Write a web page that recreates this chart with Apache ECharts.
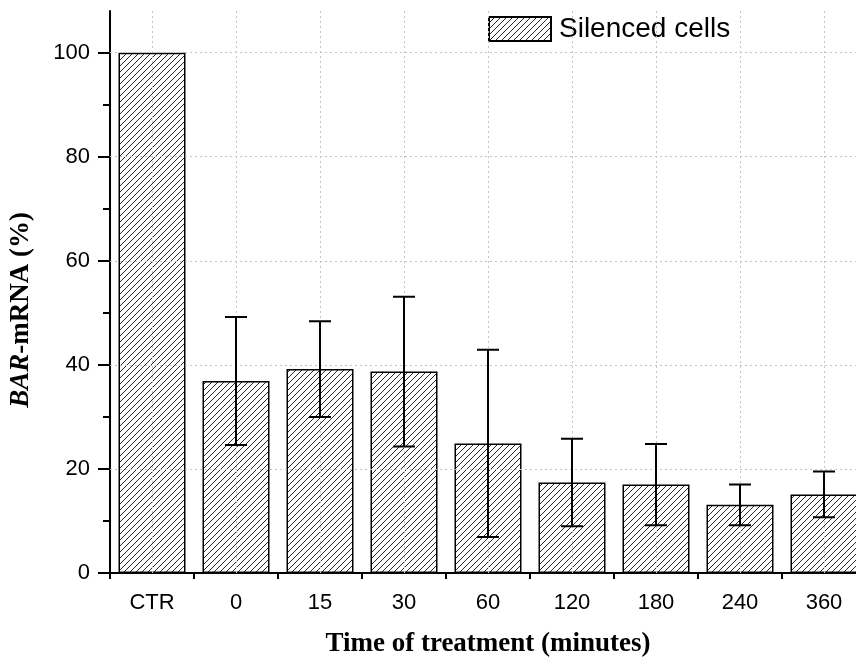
<!DOCTYPE html>
<html>
<head>
<meta charset="utf-8">
<script src="https://cdn.jsdelivr.net/npm/echarts@6/dist/echarts.min.js"></script>
<style>
  html, body { margin: 0; padding: 0; background: #fff; }
  #chart { width: 856px; height: 661px; }
</style>
</head>
<body>
<div id="chart"></div>
<script>
// BAR-mRNA levels over treatment time, mean ± SD
const categories = ['CTR', '0', '15', '30', '60', '120', '180', '240', '360'];
const meanValues = [100, 36.9, 39.2, 38.7, 24.9, 17.4, 17.0, 13.1, 15.1];
const sdValues = [null, 12.3, 9.2, 14.4, 18.0, 8.4, 7.8, 3.9, 4.4];
const yTickValues = [0, 20, 40, 60, 80, 100];
const yMinorTickValues = [10, 30, 50, 70, 90];
const seriesName = 'Silenced cells';

// diagonal hatch tile for the bar fill
function hatchTile() {
  const s = 6;
  const c = document.createElement('canvas');
  c.width = s; c.height = s;
  const g = c.getContext('2d');
  g.strokeStyle = '#2a2a2a';
  g.lineWidth = 1;
  g.beginPath();
  g.moveTo(0, s); g.lineTo(s, 0);
  g.moveTo(-1, 1); g.lineTo(1, -1);
  g.moveTo(s - 1, s + 1); g.lineTo(s + 1, s - 1);
  g.stroke();
  return c;
}

const chart = echarts.init(document.getElementById('chart'), null, { renderer: 'canvas' });

// the plot frame runs past the right edge of the page
const gridRect = { left: 110, top: 11, width: 756, height: 562, outerBoundsMode: 'none', containLabel: false };
const sansFont = '"Liberation Sans", Arial, sans-serif';
const serifFont = '"Liberation Serif", "Times New Roman", serif';

const errorData = [];
sdValues.forEach((sd, i) => {
  if (sd != null) errorData.push([i, meanValues[i], sd]);
});

chart.setOption({
  animation: false,
  backgroundColor: '#fff',
  grid: [
    Object.assign({}, gridRect),
    Object.assign({}, gridRect)
  ],
  legend: {
    data: [seriesName],
    left: 483,
    top: 10,
    icon: 'rect',
    itemWidth: 62,
    itemHeight: 24,
    textStyle: { fontSize: 28, fontFamily: sansFont, color: '#000', padding: [0, 0, 0, 3] }
  },
  xAxis: [
    {
      type: 'category',
      gridIndex: 0,
      data: categories,
      axisLine: { lineStyle: { color: '#000', width: 2 } },
      axisTick: { alignWithLabel: true, length: 11, lineStyle: { color: '#000', width: 2 } },
      axisLabel: { fontSize: 22, fontFamily: sansFont, color: '#000', margin: 19 },
      splitLine: { show: false },
      name: 'Time of treatment (minutes)',
      nameLocation: 'middle',
      nameGap: 58,
      nameTextStyle: { fontSize: 27, fontWeight: 'bold', fontFamily: serifFont, color: '#000' }
    },
    {
      type: 'category',
      gridIndex: 1,
      data: categories,
      axisLine: { show: false },
      axisTick: { show: true, alignWithLabel: false, length: 6, lineStyle: { color: '#000', width: 2 } },
      axisLabel: { show: false },
      splitLine: { show: false }
    }
  ],
  yAxis: [
    {
      type: 'value',
      gridIndex: 0,
      min: 0,
      max: 108,
      interval: 20,
      axisLine: { show: true, lineStyle: { color: '#000', width: 2 } },
      axisTick: { show: true, customValues: yTickValues, length: 12, lineStyle: { color: '#000', width: 2 } },
      axisLabel: { customValues: yTickValues, fontSize: 22, fontFamily: sansFont, color: '#000', margin: 20 },
      splitLine: { show: false },
      name: '{i|BAR}{r|-mRNA (%)}',
      nameLocation: 'middle',
      nameGap: 75,
      nameTextStyle: {
        padding: [0, 36, 0, 0],
        rich: {
          i: { fontSize: 27, fontWeight: 'bold', fontStyle: 'italic', fontFamily: serifFont, color: '#000' },
          r: { fontSize: 27, fontWeight: 'bold', fontFamily: serifFont, color: '#000' }
        }
      }
    },
    {
      type: 'value',
      gridIndex: 1,
      min: 0,
      max: 108,
      interval: 20,
      axisLine: { show: false },
      axisTick: { show: true, customValues: yMinorTickValues, length: 7, lineStyle: { color: '#000', width: 2 } },
      axisLabel: { show: false },
      splitLine: { show: false }
    }
  ],
  series: [
    {
      // dotted reference grid at the ticks
      name: 'grid',
      type: 'line',
      xAxisIndex: 0,
      yAxisIndex: 0,
      data: [],
      silent: true,
      z: 1,
      markLine: {
        silent: true,
        symbol: 'none',
        label: { show: false },
        lineStyle: { color: '#c4c4c4', type: [2, 3], width: 1 },
        data: categories.map(c => ({ xAxis: c }))
          .concat(yTickValues.filter(v => v > 0).map(v => ({ yAxis: v })))
      }
    },
    {
      name: seriesName,
      type: 'bar',
      xAxisIndex: 0,
      yAxisIndex: 0,
      data: meanValues,
      barWidth: 67,
      z: 2,
      itemStyle: {
        color: { image: hatchTile(), repeat: 'repeat' },
        borderColor: '#000',
        borderWidth: 1.5
      }
    },
    {
      name: 'SD',
      type: 'custom',
      xAxisIndex: 0,
      yAxisIndex: 0,
      data: errorData,
      z: 5,
      silent: true,
      clip: false,
      encode: { x: 0, y: 1 },
      renderItem: function (params, api) {
        const idx = api.value(0);
        const m = api.value(1);
        const sd = api.value(2);
        const hi = api.coord([idx, m + sd]);
        const lo = api.coord([idx, m - sd]);
        const half = 11;
        const x = hi[0];
        const d = 'M' + (x - half) + ' ' + hi[1] + 'L' + (x + half) + ' ' + hi[1] +
                  'M' + x + ' ' + hi[1] + 'L' + x + ' ' + lo[1] +
                  'M' + (x - half) + ' ' + lo[1] + 'L' + (x + half) + ' ' + lo[1];
        return {
          type: 'path',
          shape: { pathData: d, layout: 'center', x: x - half, y: hi[1], width: 2 * half, height: lo[1] - hi[1] },
          style: { fill: 'none', stroke: '#000', lineWidth: 2 }
        };
      }
    }
  ]
});
</script>
</body>
</html>
